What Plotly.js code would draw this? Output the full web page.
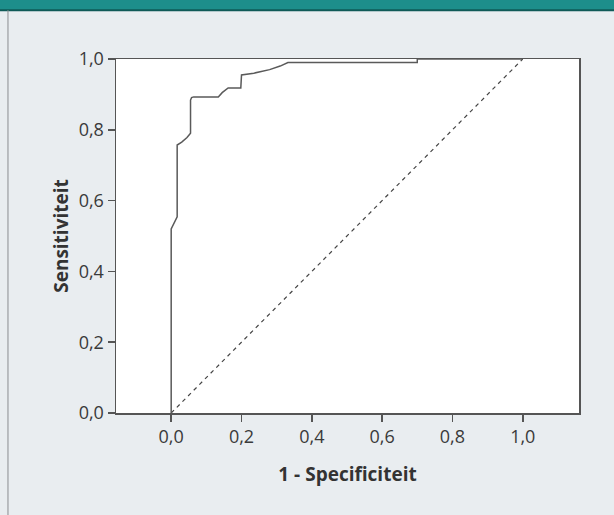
<!DOCTYPE html>
<html>
<head>
<meta charset="utf-8">
<script src="https://cdn.plot.ly/plotly-3.0.1.min.js"></script>
<style>html,body{margin:0;padding:0;background:#e9edf0;}#chart{width:614px;height:515px;}</style>
</head>
<body>
<div id="chart"></div>
<script>
// ROC curve (1 - specificity, sensitivity)
const rocX = [0, 0, 0.017, 0.017, 0.03, 0.045, 0.055, 0.055, 0.058, 0.064, 0.134, 0.145, 0.162, 0.198, 0.2, 0.235, 0.28, 0.31, 0.332, 0.70, 0.70, 1.0];
const rocY = [0, 0.52, 0.554, 0.757, 0.765, 0.778, 0.79, 0.884, 0.891, 0.893, 0.893, 0.905, 0.918, 0.918, 0.955, 0.96, 0.97, 0.98, 0.99, 0.99, 1.0, 1.0];
// Reference diagonal
const refX = [0, 1];
const refY = [0, 1];
// Ticks
const tickValues = [0, 0.2, 0.4, 0.6, 0.8, 1.0];
const tickLabels = ["0,0", "0,2", "0,4", "0,6", "0,8", "1,0"];
const xTitle = "1 - Specificiteit";
const yTitle = "Sensitiviteit";

const font = "'Open Sans', 'Noto Sans', sans-serif";

const traces = [
  {x: refX, y: refY, type: 'scatter', mode: 'lines',
   line: {color: '#444', width: 1.2, dash: '4px,4px'}, hoverinfo: 'skip'},
  {x: rocX, y: rocY, type: 'scatter', mode: 'lines',
   line: {color: '#5a5a5a', width: 1.5}, hoverinfo: 'skip'}
];

const axisCommon = {
  tickvals: tickValues, ticktext: tickLabels,
  ticks: 'outside', ticklen: 7, tickwidth: 1.5, tickcolor: '#555',
  showline: true, linecolor: '#555', linewidth: 1.5, mirror: true,
  showgrid: false, zeroline: false,
  tickfont: {family: font, size: 18, color: '#3a3a3a'}
};

const layout = {
  width: 614, height: 515,
  margin: {l: 116, r: 35, t: 59, b: 102},
  paper_bgcolor: '#e9edf0', plot_bgcolor: '#ffffff',
  showlegend: false,
  xaxis: Object.assign({}, axisCommon, {
    range: [-0.157, 1.16],
    title: {text: xTitle, font: {family: font, size: 19, color: '#333', weight: 'bold'}, standoff: 20}
  }),
  yaxis: Object.assign({}, axisCommon, {
    range: [0, 1.0],
    title: {text: yTitle, font: {family: font, size: 19, color: '#333', weight: 'bold'}, standoff: 5}
  }),
  shapes: [
    {type: 'rect', xref: 'paper', yref: 'paper', x0: -0.26, x1: 1.08, y0: 1.138, y1: 1.2,
     fillcolor: '#1d8e8b', line: {width: 0}, layer: 'below'},
    {type: 'line', xref: 'paper', yref: 'paper', x0: -0.26, x1: 1.08, y0: 1.138, y1: 1.138,
     line: {color: '#0f5a57', width: 2}},
    {type: 'line', xref: 'paper', yref: 'paper', x0: -0.2333, x1: -0.2333, y0: -0.3, y1: 1.138,
     line: {color: '#8a8d90', width: 1}}
  ]
};

Plotly.newPlot('chart', traces, layout, {displayModeBar: false, staticPlot: true});
</script>
</body>
</html>
